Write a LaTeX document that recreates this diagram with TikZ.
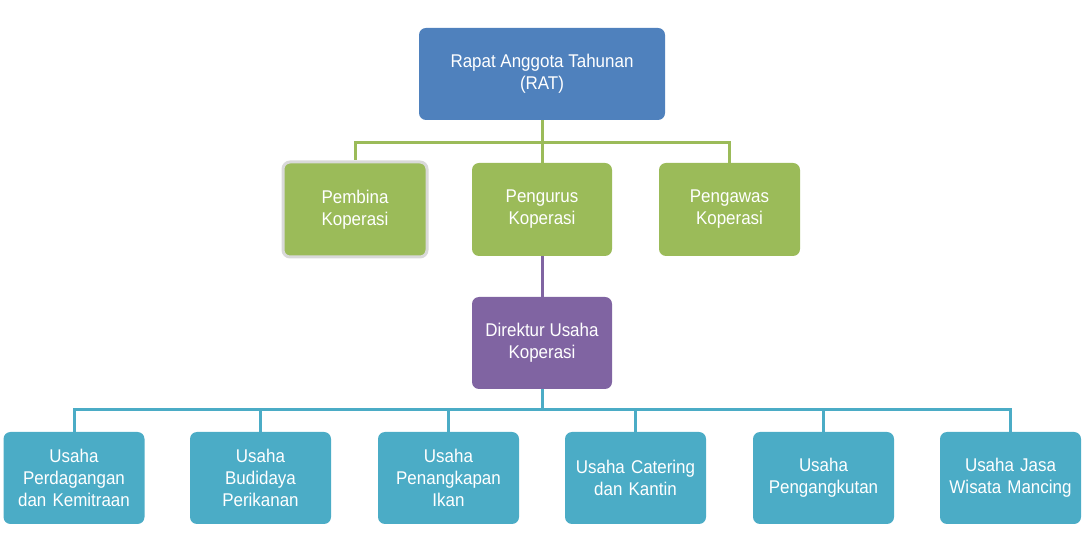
\documentclass[tikz,border=0pt]{standalone}
\usepackage{fontspec}
\setmainfont{Liberation Sans}[FakeStretch=0.92]
\definecolor{ratblue}{HTML}{4F81BD}
\definecolor{kopgreen}{HTML}{9BBB59}
\definecolor{dirpurple}{HTML}{8064A2}
\definecolor{usahateal}{HTML}{4BACC6}
\definecolor{edgegray}{HTML}{D9D9D9}
\tikzset{
  orgbox/.style={rectangle,rounded corners=7bp,text=white,align=center,
    font=\fontsize{18.5}{22}\selectfont,inner sep=0pt},
  usahabox/.style={orgbox,fill=usahateal,minimum width=141bp,minimum height=92bp,text width=132bp},
  link/.style={line width=3bp}
}
\begin{document}
\begin{tikzpicture}[line join=miter,]
%%
\useasboundingbox (0bp,0bp) rectangle (1085bp,555bp);
\node (rat) at (542.0bp,481.0bp) [orgbox,fill=ratblue,minimum width=246bp,minimum height=92bp] {Rapat Anggota Tahunan\\(RAT)};
  \node (pembina) at (355.0bp,345.5bp) [orgbox,fill=kopgreen,draw=edgegray,line width=3bp,minimum width=144bp,minimum height=95bp] {Pembina\\Koperasi};
  \node (pengurus) at (542.0bp,345.5bp) [orgbox,fill=kopgreen,minimum width=140bp,minimum height=93bp] {Pengurus\\Koperasi};
  \node (pengawas) at (729.5bp,345.5bp) [orgbox,fill=kopgreen,minimum width=141bp,minimum height=93bp] {Pengawas\\Koperasi};
  \node (direktur) at (542.0bp,212.0bp) [orgbox,fill=dirpurple,minimum width=140bp,minimum height=92bp] {Direktur Usaha\\Koperasi};
  \node (dagang) at (74.0bp,77.0bp) [usahabox] {Usaha\\Perdagangan\\dan Kemitraan};
  \node (budidaya) at (260.5bp,77.0bp) [usahabox] {Usaha\\Budidaya\\Perikanan};
  \node (tangkap) at (448.5bp,77.0bp) [usahabox] {Usaha\\Penangkapan\\Ikan};
  \node (catering) at (635.5bp,77.0bp) [usahabox] {Usaha Catering\\dan Kantin};
  \node (angkut) at (823.5bp,77.0bp) [usahabox] {Usaha\\Pengangkutan};
  \node (wisata) at (1010.5bp,77.0bp) [usahabox] {Usaha Jasa\\Wisata Mancing};
  \coordinate (gbus) at (542.0bp,412.0bp);
  \coordinate (tbus) at (542.0bp,145.0bp);
  \draw [link,kopgreen] (rat.south) -- (gbus) -| (pembina.north);
  \draw [link,kopgreen] (gbus) -| (pengawas.north);
  \draw [link,kopgreen] (gbus) -- (pengurus.north);
  \draw [link,dirpurple] (pengurus.south) -- (direktur.north);
  \draw [link,usahateal] (direktur.south) -- (tbus) -| (dagang.north);
  \draw [link,usahateal] (tbus) -| (budidaya.north);
  \draw [link,usahateal] (tbus) -| (tangkap.north);
  \draw [link,usahateal] (tbus) -| (catering.north);
  \draw [link,usahateal] (tbus) -| (angkut.north);
  \draw [link,usahateal] (tbus) -| (wisata.north);
%
\end{tikzpicture}
\end{document}
